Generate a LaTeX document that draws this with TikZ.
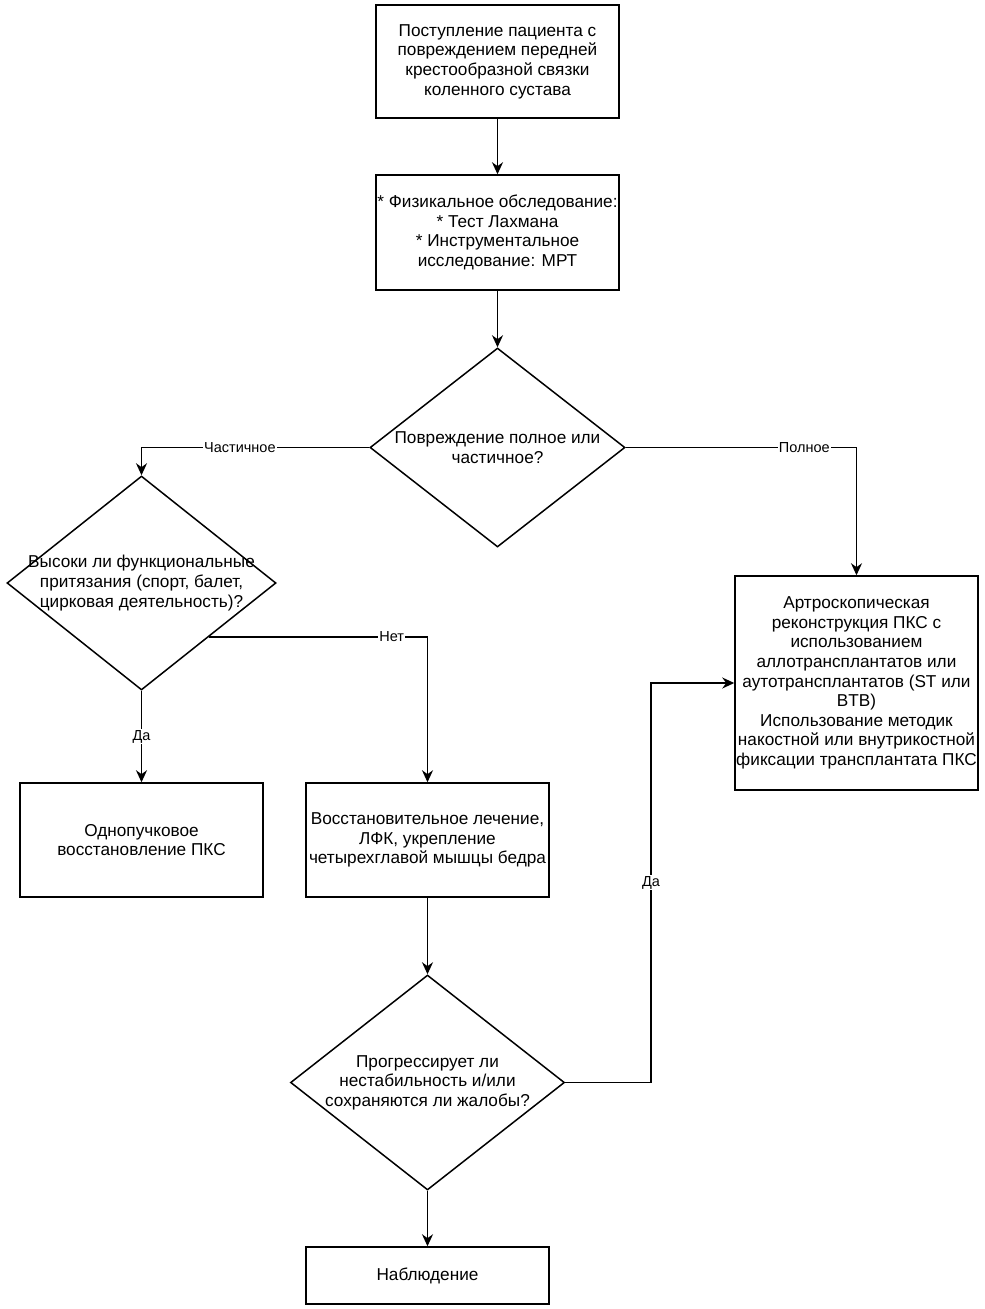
\documentclass[tikz,border=0pt]{standalone}
\usepackage{fontspec}
\setmainfont{Liberation Sans}
\usetikzlibrary{shapes.geometric,arrows.meta}
\begin{document}
\begin{tikzpicture}[x=1pt,y=-1pt,
  box/.style={draw,line width=1.5pt,rectangle,inner sep=0pt,align=center,font=\fontsize{17.2}{19.6}\selectfont},
  dia/.style={draw,line width=1.5pt,diamond,inner sep=0pt},
  txt/.style={align=center,font=\fontsize{17.2}{19.6}\selectfont},
  conn/.style={line width=1.5pt,-{Stealth[length=12pt,width=11pt]}},
  lbl/.style={fill=white,inner sep=1pt,font=\fontsize{14.5}{16}\selectfont}]
\useasboundingbox[fill=white] (0,0) rectangle (985,1309);
\node[box,minimum width=243pt,minimum height=113pt] (b1) at (497.5,61.5)
  {Поступление пациента с\\повреждением передней\\крестообразной связки\\коленного сустава};
\node[box,minimum width=243pt,minimum height=115pt] (b2) at (497.5,232.5)
  {* Физикальное обследование:\\* Тест Лахмана\\* Инструментальное\\исследование: МРТ};
\node[dia,minimum width=255pt,minimum height=199pt] (d1) at (497.5,447.5) {};
\node[txt] (t1) at (497.5,447.5) {Повреждение полное или\\частичное?};
\node[dia,minimum width=269pt,minimum height=214pt] (d2) at (141.5,583) {};
\node[txt] (t2) at (141.5,583) {Высоки ли функциональные\\притязания (спорт, балет,\\цирковая деятельность)?};
\node[box,minimum width=243pt,minimum height=214pt] (b3) at (856.5,683)
  {Артроскопическая\\реконструкция ПКС с\\использованием\\аллотрансплантатов или\\аутотрансплантатов (ST или\\BTB)\\Использование методик\\накостной или внутрикостной\\фиксации трансплантата ПКС};
\node[box,minimum width=243pt,minimum height=114pt] (b4) at (141.5,840)
  {Однопучковое\\восстановление ПКС};
\node[box,minimum width=243pt,minimum height=114pt] (b5) at (427.5,840)
  {Восстановительное лечение,\\ЛФК, укрепление\\четырехглавой мышцы бедра};
\node[dia,minimum width=274pt,minimum height=215pt] (d3) at (427.5,1082.5) {};
\node[txt] (t3) at (427.5,1082.5) {Прогрессирует ли\\нестабильность и/или\\сохраняются ли жалобы?};
\node[box,minimum width=243pt,minimum height=57pt] (b6) at (427.5,1275.5) {Наблюдение};
\coordinate (k) at (651,1082.5);
\draw[conn] (b1.south) -- (b2.north);
\draw[conn] (b2.south) -- (d1.north);
\draw[conn] (d1.west) -| node[lbl,pos=0.284] {Частичное} (d2.north);
\draw[conn] (d1.east) -| node[lbl,pos=0.387] {Полное} (b3.north);
\draw[conn] (d2.south) -- node[lbl,pos=0.5] {Да} (b4.north);
\draw[conn] (d2.south east) -| node[lbl,pos=0.418] {Нет} (b5.north);
\draw[conn] (b5.south) -- (d3.north);
\draw[conn] (d3.south) -- (b6.north);
\draw[conn] (d3.east) -- (k) |- node[lbl,pos=0.25] {Да} (b3.west);
\end{tikzpicture}
\end{document}
